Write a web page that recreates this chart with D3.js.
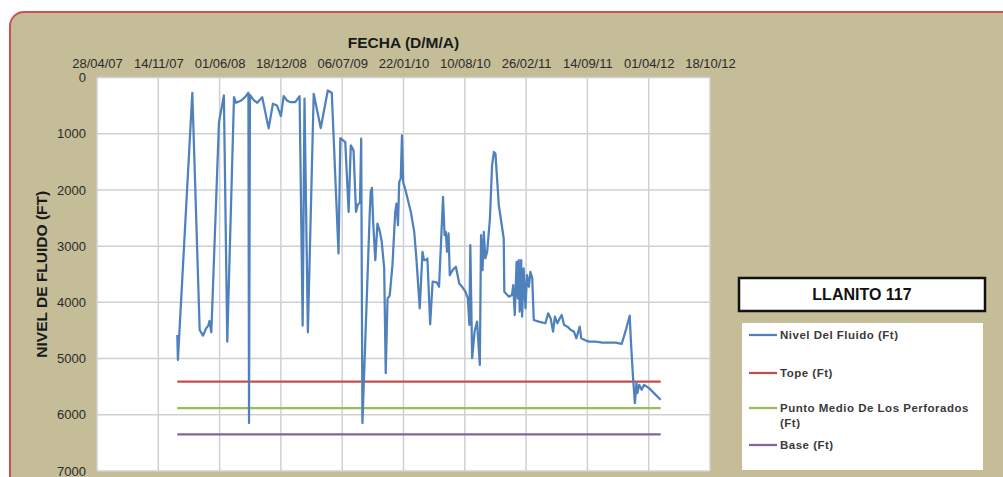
<!DOCTYPE html>
<html>
<head>
<meta charset="utf-8">
<script src="https://cdn.jsdelivr.net/npm/d3@7"></script>
<style>
  html, body { margin: 0; padding: 0; background: #ffffff; }
  svg { display: block; font-family: "Liberation Sans", Arial, sans-serif; }
</style>
</head>
<body>
<svg id="chart" width="1003" height="477"></svg>
<script>
// ---- data (dates as Excel serial numbers, values in ft) ----
const fechas = [39462,39464,39511,39535,39546,39556,39563,39567,39573,39598,39614,39625,39647,39654,39669,39683,39694,39696,39699,39712,39723,39739,39760,39774,39787,39800,39809,39820,39830,39847,39861,39871,39877,39888,39907,39930,39953,39966,39988,39994,40010,40021,40028,40037,40045,40051,40058,40062,40066,40090,40093,40097,40101,40108,40115,40123,40129,40137,40142,40148,40155,40164,40173,40177,40182,40186,40191,40195,40199,40208,40224,40235,40242,40253,40262,40267,40273,40278,40287,40295,40308,40316,40329,40334,40338,40342,40347,40351,40360,40371,40382,40391,40402,40410,40415,40418,40424,40432,40440,40449,40453,40458,40462,40467,40473,40482,40489,40495,40500,40511,40527,40529,40544,40554,40558,40563,40569,40573,40576,40579,40584,40587,40592,40598,40603,40609,40614,40620,40625,40641,40663,40672,40680,40688,40694,40702,40710,40716,40724,40735,40746,40756,40764,40775,40780,40791,40805,40827,40849,40871,40892,40912,40927,40938,40942,40949,40955,40960,40963,40969,40977,40985,41001,41023,41039];
const nivelFluido = [4580,5024,272,4491,4592,4462,4414,4331,4532,793,320,4698,349,450,414,349,272,6148,308,408,450,349,905,467,497,686,331,408,438,438,331,4414,378,4532,290,899,231,272,3130,1077,1148,2391,1207,1296,2391,2260,2225,1089,6148,2391,2036,1964,2568,3248,2598,2746,2923,3396,5260,3929,3882,3337,2391,2243,2627,1858,1799,1030,1858,2036,2391,2746,3219,4106,3100,3248,3248,3219,4390,3633,3645,3722,2124,2805,2746,3100,2775,3515,3426,3367,3663,3722,3811,3929,4402,2982,4994,4520,4343,5112,2805,3426,2746,3219,3100,2509,1562,1325,1355,2272,2864,3811,3899,3870,3692,4225,3278,3929,3248,4165,3248,4254,3396,4106,3515,3722,3456,3574,4313,4343,4372,4195,4284,4520,4254,4372,4284,4225,4402,4432,4491,4520,4639,4432,4639,4669,4698,4698,4716,4716,4716,4740,4462,4237,4698,5349,5793,5438,5615,5467,5556,5467,5526,5645,5734];
const tope = 5410;
const puntoMedio = 5880;
const base = 6350;
const xTickLabels = ["28/04/07","14/11/07","01/06/08","18/12/08","06/07/09","22/01/10","10/08/10","26/02/11","14/09/11","01/04/12","18/10/12"];
const yTickValues = [0,1000,2000,3000,4000,5000,6000,7000];
const seriesNames = ["Nivel Del Fluido (Ft)","Tope (Ft)","Punto Medio De Los Perforados (Ft)","Base (Ft)"];
const seriesColors = ["#4f81bd","#c0504d","#9bbb59","#8064a2"];
const chartTitle = "LLANITO 117";
const xTitle = "FECHA (D/M/A)";
const yTitle = "NIVEL DE FLUIDO (FT)";

// ---- helpers ----
const excelEpoch = Date.UTC(1899, 11, 30);
const fromSerial = s => new Date(excelEpoch + s * 86400000);
const parseTick = d3.utcParse("%d/%m/%y");

const svg = d3.select("#chart");
const W = 1003, H = 477;
const plot = { left: 97, right: 710, top: 77.5, bottom: 471 };

// background chart area (rounded, extends past bottom/right)
svg.append("rect").attr("x", 0).attr("y", 0).attr("width", W).attr("height", H).attr("fill", "#ffffff");
svg.append("rect")
  .attr("x", 10).attr("y", 12).attr("width", W + 20).attr("height", H + 20)
  .attr("rx", 14).attr("ry", 14)
  .attr("fill", "#c4bd97").attr("stroke", "#c9524e").attr("stroke-width", 2);

const x = d3.scaleUtc()
  .domain([parseTick(xTickLabels[0]), parseTick(xTickLabels[xTickLabels.length - 1])])
  .range([plot.left, plot.right]);
const y = d3.scaleLinear().domain([0, 7000]).range([plot.top, plot.bottom]);

// plot area
svg.append("rect")
  .attr("x", plot.left).attr("y", plot.top)
  .attr("width", plot.right - plot.left).attr("height", plot.bottom - plot.top)
  .attr("fill", "#ffffff");

// gridlines
const tickDates = xTickLabels.map(parseTick);
svg.append("g").selectAll("line").data(tickDates).join("line")
  .attr("x1", d => x(d)).attr("x2", d => x(d))
  .attr("y1", plot.top).attr("y2", plot.bottom)
  .attr("stroke", "#d0d0d0").attr("stroke-width", 1.5);
svg.append("g").selectAll("line").data(yTickValues).join("line")
  .attr("x1", plot.left).attr("x2", plot.right)
  .attr("y1", d => y(d)).attr("y2", d => y(d))
  .attr("stroke", "#d0d0d0").attr("stroke-width", 1.5);

// axes (top x axis, left y axis) using d3 axes, domain lines hidden
const xAxis = d3.axisTop(x).tickValues(tickDates).tickFormat(d3.utcFormat("%d/%m/%y")).tickSize(0).tickPadding(0);
const gx = svg.append("g").attr("transform", `translate(0,${plot.top - 10})`).call(xAxis);
gx.select(".domain").remove();
gx.selectAll("text").attr("font-size", 13).attr("fill", "#2a2a2a")
  .attr("font-family", "Liberation Sans, Arial, sans-serif").attr("dy", "0");

const yAxis = d3.axisLeft(y).tickValues(yTickValues).tickFormat(d3.format("d")).tickSize(0).tickPadding(11);
const gy = svg.append("g").attr("transform", `translate(${plot.left},0)`).call(yAxis);
gy.select(".domain").remove();
gy.selectAll("text").attr("font-size", 13).attr("fill", "#2a2a2a")
  .attr("font-family", "Liberation Sans, Arial, sans-serif");

// axis titles
svg.append("text").attr("x", (plot.left + plot.right) / 2).attr("y", 48)
  .attr("text-anchor", "middle").attr("font-weight", "bold").attr("font-size", 15.5)
  .attr("fill", "#1a1a1a").text(xTitle);
svg.append("text")
  .attr("transform", `translate(47,${(plot.top + plot.bottom) / 2}) rotate(-90)`)
  .attr("text-anchor", "middle").attr("font-weight", "bold").attr("font-size", 15.5)
  .attr("fill", "#1a1a1a").text(yTitle);

// series
const pts = fechas.map((f, i) => ({ d: fromSerial(f), v: nivelFluido[i] }));
const line = d3.line().x(p => x(p.d)).y(p => y(p.v));
const first = fromSerial(fechas[0]), last = fromSerial(fechas[fechas.length - 1]);
[tope, puntoMedio, base].forEach((val, i) => {
  svg.append("path")
    .datum([{ d: first, v: val }, { d: last, v: val }])
    .attr("d", line).attr("fill", "none")
    .attr("stroke", seriesColors[i + 1]).attr("stroke-width", 2.25);
});
svg.append("path").datum(pts).attr("d", line)
  .attr("fill", "none").attr("stroke", seriesColors[0]).attr("stroke-width", 2.25)
  .attr("stroke-linejoin", "round");

// title box
svg.append("rect").attr("x", 739).attr("y", 278).attr("width", 246).attr("height", 33)
  .attr("fill", "#ffffff").attr("stroke", "#111").attr("stroke-width", 2.5);
svg.append("text").attr("x", 862).attr("y", 300).attr("text-anchor", "middle")
  .attr("font-weight", "bold").attr("font-size", 16).attr("fill", "#111").text(chartTitle);

// legend
svg.append("rect").attr("x", 742).attr("y", 323).attr("width", 241).attr("height", 147).attr("fill", "#ffffff");
const legendY = [335, 373, 408, 445];
const lg = svg.append("g");
seriesNames.forEach((name, i) => {
  lg.append("line").attr("x1", 749).attr("x2", 777).attr("y1", legendY[i]).attr("y2", legendY[i])
    .attr("stroke", seriesColors[i]).attr("stroke-width", 2.25);
  const t = lg.append("text").attr("x", 780).attr("y", legendY[i] + 4)
    .attr("font-size", 11.5).attr("font-weight", "bold").attr("letter-spacing", 0.5)
    .attr("fill", "#3a3a3a");
  if (name.length > 30) {
    const parts = name.split(" (");
    t.append("tspan").attr("x", 780).text(parts[0]);
    t.append("tspan").attr("x", 780).attr("dy", 15).text("(" + parts[1]);
  } else {
    t.text(name);
  }
});
</script>
</body>
</html>
